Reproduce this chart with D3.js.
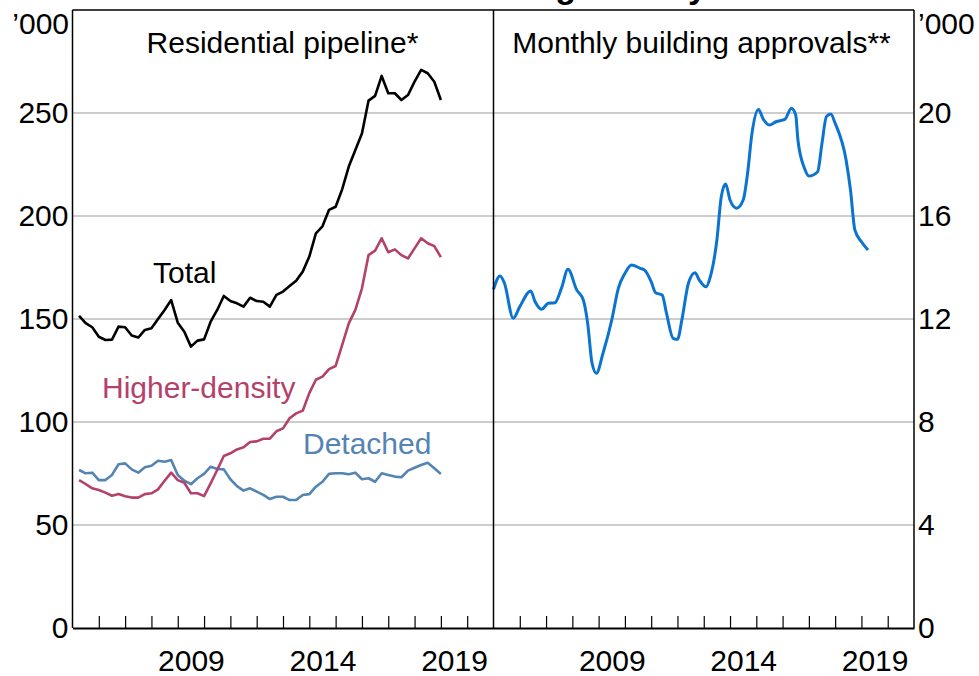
<!DOCTYPE html>
<html>
<head>
<meta charset="utf-8">
<script src="https://cdn.jsdelivr.net/npm/d3@7"></script>
<style>
  body { margin: 0; background: #fff; }
  svg text { font-family: "Liberation Sans", Arial, sans-serif; }
</style>
</head>
<body>
<div id="chart"></div>
<script>
// Residential pipeline, '000, quarterly from 2005 Q2 to 2019 Q1
var pipelineStart = 2005.25;
var totalPipeline = [151.5, 148, 146, 141.4, 139.8, 140, 146.3, 146, 142, 141,
  144.7, 145.5, 150, 154.4, 159.2, 148.2, 143.8, 136.6, 139.5, 140.1,
  148.7, 154.4, 161.2, 158.7, 157.6, 156, 160.3, 158.7, 158.4, 156,
  161.7, 163.3, 166, 168.6, 173, 180.3, 191.6, 195, 203, 204.5,
  213, 224, 232, 240, 256, 258.3, 268, 259.6, 259.6, 256.3,
  258.7, 265.2, 270.9, 269.3, 265.2, 256.3];
var higherDensity = [71.8, 69.9, 67.8, 67, 65.7, 64.2, 65, 64, 63.3, 63.3,
  65, 65.4, 67.3, 71.5, 75.4, 71.8, 70.5, 65.4, 65.4, 64,
  70.2, 76.7, 83.5, 84.8, 86.7, 87.7, 90.3, 90.6, 91.9, 91.9,
  95.5, 96.9, 101.8, 104.2, 105.5, 114, 120.5, 122, 125.7, 127.2,
  137.4, 147.9, 154.4, 164.9, 181, 183.2, 189.2, 182.4, 183.8, 181,
  179.4, 184.3, 189.2, 186.8, 185.4, 180];
var detached = [76.7, 75.1, 75.4, 71.8, 71.8, 74.3, 79.5, 79.9, 77, 75.4,
  78, 78.8, 81.2, 80.7, 81.5, 74.3, 71.5, 69.8, 72.7, 74.8,
  78.3, 77.2, 77, 72.2, 68.9, 66.7, 67.8, 66.2, 64.6, 62.6,
  63.7, 63.7, 62.1, 62.1, 64.6, 65, 68.6, 71, 74.8, 75.1,
  75.1, 74.6, 75.4, 72.2, 72.7, 71, 75.1, 74.3, 73.5, 73.2,
  76.4, 77.8, 79.1, 80.2, 77.5, 74.8];

// Monthly building approvals, '000 (trend, read at turning points)
var approvalMonths = ["2005-01", "2005-04", "2005-06", "2005-10", "2006-01", "2006-06", "2006-08", "2006-11",
  "2007-02", "2007-05", "2007-08", "2007-11", "2008-03", "2008-06", "2008-08", "2008-10", "2008-12",
  "2009-03", "2009-07", "2009-10", "2010-01", "2010-04", "2010-08", "2010-10", "2011-01", "2011-03",
  "2011-06", "2011-08", "2011-11", "2012-01", "2012-03", "2012-06", "2012-09", "2012-11", "2013-02",
  "2013-04", "2013-07", "2013-09", "2013-11", "2014-01", "2014-04", "2014-07", "2014-09", "2014-11",
  "2015-02", "2015-04", "2015-07", "2015-10", "2016-02", "2016-05", "2016-07", "2016-08", "2016-11",
  "2017-01", "2017-05", "2017-07", "2017-09", "2017-11", "2018-01", "2018-06", "2018-08", "2018-10",
  "2019-01", "2019-04"];
var approvals = [13.15, 13.67, 13.39, 12.03, 12.48, 13.09, 12.67, 12.38,
  12.61, 12.63, 13.19, 13.93, 13.13, 12.74, 11.83, 10.28, 9.89,
  10.67, 11.96, 13.19, 13.77, 14.1, 13.97, 13.9, 13.45, 13.02,
  12.93, 12.22, 11.25, 11.21, 11.96, 13.39, 13.8, 13.51, 13.25,
  13.64, 15.07, 16.75, 17.24, 16.62, 16.3, 16.62, 17.65, 19.2,
  20.14, 19.79, 19.53, 19.66, 19.75, 20.18, 19.92, 18.95, 17.85,
  17.55, 17.72, 18.83, 19.86, 19.96, 19.6, 18.17, 17.01, 15.46,
  15.0, 14.68];

var leftTicks = [0, 50, 100, 150, 200, 250];
var rightTicks = [0, 4, 8, 12, 16, 20];
var yearLabels = [2009, 2014, 2019];

// Layout
var W = 979, H = 676;
var plotTop = 10, plotBottom = 628;
var xLeft0 = 72.5, xMid = 493.5, xRight1 = 914;

var svg = d3.select("#chart").append("svg")
  .attr("width", W)
  .attr("height", H);

var xL = d3.scaleLinear().domain([2005, 2021]).range([xLeft0, xMid]);
var xR = d3.scaleLinear().domain([2005, 2021]).range([xMid, xRight1]);
var yL = d3.scaleLinear().domain([0, 300]).range([plotBottom, plotTop]);
var yR = d3.scaleLinear().domain([0, 24]).range([plotBottom, plotTop]);

// Chart title, cut off at the very top (only descenders show)
svg.append("text")
  .attr("x", 707)
  .attr("y", -2)
  .attr("text-anchor", "end")
  .attr("font-size", 34)
  .attr("font-weight", "bold")
  .text("Residential Building Activity");

// Gridlines across both panels
svg.append("g").selectAll("line")
  .data(leftTicks.filter(d => d > 0))
  .enter().append("line")
  .attr("x1", xLeft0).attr("x2", xRight1)
  .attr("y1", d => yL(d)).attr("y2", d => yL(d))
  .attr("stroke", "#bdbdbd")
  .attr("stroke-width", 1.5);

// Lines
var quarterX = (d, i) => xL(pipelineStart + i * 0.25);
var pipeLine = d3.line().x(quarterX).y(d => yL(d));

var series = [
  {values: detached, color: "#5384b4"},
  {values: higherDensity, color: "#b3416b"},
  {values: totalPipeline, color: "#000000"}
];
series.forEach(s => {
  svg.append("path")
    .datum(s.values)
    .attr("fill", "none")
    .attr("stroke", s.color)
    .attr("stroke-width", 2.6)
    .attr("stroke-linejoin", "round")
    .attr("d", pipeLine);
});

var parseMonth = d3.timeParse("%Y-%m");
var toYear = s => { var dt = parseMonth(s); return dt.getFullYear() + dt.getMonth() / 12; };
var approvalData = approvalMonths.map((m, i) => ({t: toYear(m), v: approvals[i]}));

svg.append("path")
  .datum(approvalData)
  .attr("fill", "none")
  .attr("stroke", "#0a74d0")
  .attr("stroke-width", 3)
  .attr("d", d3.line().curve(d3.curveMonotoneX).x(d => xR(d.t)).y(d => yR(d.v)));

// Frame
var frame = svg.append("g").attr("stroke", "#000").attr("stroke-width", 1.5).attr("fill", "none");
frame.append("line").attr("x1", xLeft0).attr("x2", xRight1).attr("y1", plotTop).attr("y2", plotTop);
frame.append("line").attr("x1", xLeft0).attr("x2", xLeft0).attr("y1", plotTop).attr("y2", plotBottom);
frame.append("line").attr("x1", xMid).attr("x2", xMid).attr("y1", plotTop).attr("y2", plotBottom);
frame.append("line").attr("x1", xRight1).attr("x2", xRight1).attr("y1", plotTop).attr("y2", plotBottom);

// Bottom axes: inward year ticks, labels centred in the year
var yearTicks = d3.range(2006, 2021);
[xL, xR].forEach(x => {
  var g = svg.append("g")
    .attr("transform", "translate(0," + plotBottom + ")")
    .call(d3.axisBottom(x).tickValues(yearTicks).tickSize(-12).tickSizeOuter(0).tickFormat(""));
  g.select(".domain").attr("stroke-width", 2);
  g.selectAll(".tick line").attr("stroke-width", 1.2);

  var lab = svg.append("g")
    .attr("transform", "translate(0," + plotBottom + ")")
    .call(d3.axisBottom(x).tickValues(yearLabels.map(d => d + 0.5)).tickSize(0)
      .tickFormat(d => Math.floor(d)));
  lab.select(".domain").remove();
  lab.selectAll("text")
    .attr("y", 22)
    .attr("font-size", 30)
    .attr("fill", "#000")
    .style("font-family", "'Liberation Sans', Arial, sans-serif");
});

// Y axes labels
var yAxisL = svg.append("g")
  .attr("transform", "translate(" + xLeft0 + ",0)")
  .call(d3.axisLeft(yL).tickValues(leftTicks).tickSize(0).tickPadding(4));
var yAxisR = svg.append("g")
  .attr("transform", "translate(" + xRight1 + ",0)")
  .call(d3.axisRight(yR).tickValues(rightTicks).tickSize(0).tickPadding(4));
[yAxisL, yAxisR].forEach(g => {
  g.select(".domain").remove();
  g.selectAll("text")
    .attr("font-size", 30)
    .attr("fill", "#000")
    .style("font-family", "'Liberation Sans', Arial, sans-serif");
});

svg.append("text").attr("x", 69).attr("y", 34).attr("text-anchor", "end")
  .attr("font-size", 30).text("\u2019000");
svg.append("text").attr("x", 918).attr("y", 34).attr("text-anchor", "start")
  .attr("font-size", 30).text("\u2019000");

// Panel titles
svg.append("text").attr("x", 282.5).attr("y", 53).attr("text-anchor", "middle")
  .attr("font-size", 30).text("Residential pipeline*");
svg.append("text").attr("x", 701.5).attr("y", 53).attr("text-anchor", "middle")
  .attr("font-size", 30).text("Monthly building approvals**");

// Series labels
svg.append("text").attr("x", 153).attr("y", 283).attr("font-size", 30)
  .attr("fill", "#000").text("Total");
svg.append("text").attr("x", 102).attr("y", 398).attr("font-size", 30)
  .attr("fill", "#b3416b").text("Higher-density");
svg.append("text").attr("x", 303).attr("y", 454).attr("font-size", 30)
  .attr("fill", "#5384b4").text("Detached");
</script>
</body>
</html>
